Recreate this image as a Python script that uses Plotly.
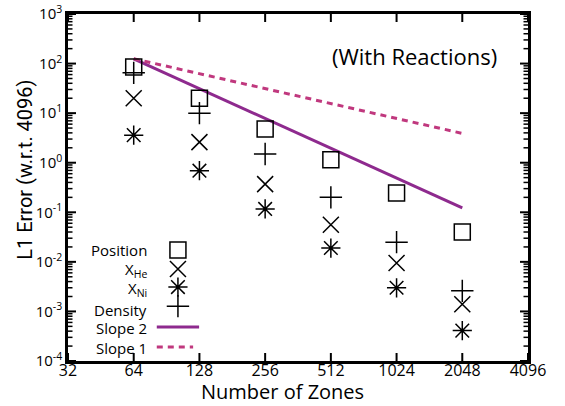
import plotly.graph_objects as go
import math

zones = [64, 128, 256, 512, 1024, 2048]
position = [85, 20, 4.8, 1.15, 0.245, 0.04]
density = [65, 10, 1.5, 0.2, 0.025, 0.0026]
x_he = [20, 2.6, 0.37, 0.056, 0.0095, 0.0014]
x_ni = [3.6, 0.69, 0.117, 0.019, 0.003, 0.00041]

slope_x = [64, 2048]
slope2_y = [125, 125 / 1024]
slope1_y = [125, 125 / 32]

x_ticks = [32, 64, 128, 256, 512, 1024, 2048, 4096]
y_tick_exps = [-4, -3, -2, -1, 0, 1, 2, 3]

FONT = "Open Sans"
C2 = "#8E2A8E"
C1 = "#C0387E"

XR = [math.log10(32), math.log10(4096)]
YR = [-4, 3]


def fx(f):
    return 10 ** (XR[0] + f * (XR[1] - XR[0]))


def fy(f):
    return 10 ** (YR[0] + f * (YR[1] - YR[0]))


def px_x(v):
    return (math.log10(v) - XR[0]) / (XR[1] - XR[0])


def px_y(v):
    return (math.log10(v) - YR[0]) / (YR[1] - YR[0])


fig = go.Figure()


def add_markers(x, y, symbol, size=16):
    fig.add_trace(go.Scatter(x=x, y=y, mode="markers",
                             marker=dict(symbol=symbol, size=size, color="black",
                                         line=dict(color="black", width=1.5)),
                             showlegend=False, cliponaxis=False))


fig.add_trace(go.Scatter(x=slope_x, y=slope2_y, mode="lines",
                         line=dict(color=C2, width=3), showlegend=False))
fig.add_trace(go.Scatter(x=slope_x, y=slope1_y, mode="lines",
                         line=dict(color=C1, width=3, dash="6px,5px"), showlegend=False))

add_markers(zones, position, "square-open")
add_markers(zones, density, "cross-thin-open")
add_markers(zones, x_he, "x-thin-open")
add_markers(zones, x_ni, "asterisk-open")

# manual legend: text on the left, key on the right
leg_labels = ["Position", "X<sub>He</sub>", "X<sub>Ni</sub>", "Density", "Slope 2", "Slope 1"]
leg_key_f = [0.320, 0.265, 0.213, 0.158, 0.098, 0.040]
leg_text_f = [0.320, 0.262, 0.208, 0.147, 0.095, 0.038]
symbols = ["square-open", "x-thin-open", "asterisk-open", "cross-thin-open"]
for sym, f in zip(symbols, leg_key_f[:4]):
    add_markers([fx(0.239)], [fy(f)], sym)
fig.add_trace(go.Scatter(x=[fx(0.193), fx(0.285)], y=[fy(leg_key_f[4])] * 2, mode="lines",
                         line=dict(color=C2, width=3), showlegend=False, hoverinfo="skip"))
fig.add_trace(go.Scatter(x=[fx(0.193), fx(0.272)], y=[fy(leg_key_f[5])] * 2, mode="lines",
                         line=dict(color=C1, width=3, dash="6px,5px"), showlegend=False, hoverinfo="skip"))

annotations = []
for lab, f in zip(leg_labels, leg_text_f):
    annotations.append(dict(text=lab, x=0.176, y=f, xref="paper", yref="paper",
                            xanchor="right", yanchor="middle", showarrow=False,
                            font=dict(family=FONT, size=15, color="black")))
annotations.append(dict(text="(With Reactions)", x=0.937, y=0.879, xref="paper", yref="paper",
                        xanchor="right", yanchor="middle", showarrow=False,
                        font=dict(family=FONT, size=22, color="black")))
annotations.append(dict(text="L1 Error (w.r.t. 4096)", x=-0.0935, y=0.551, xref="paper", yref="paper",
                        xanchor="center", yanchor="middle", showarrow=False, textangle=-90,
                        font=dict(family="Roboto", size=20, color="black")))
annotations.append(dict(text="Number of Zones", x=0.467, y=-0.089, xref="paper", yref="paper",
                        xanchor="center", yanchor="middle", showarrow=False,
                        font=dict(family=FONT, size=20, color="black")))

# tick marks drawn inside on all four sides
minor_vals = [k * 10 ** e for e in range(-4, 3) for k in range(2, 10)]
shapes = []
for e in y_tick_exps:
    f = px_y(10 ** e)
    for anchor, ln in ((0, 8), (1, -8)):
        shapes.append(dict(type="line", xref="paper", yref="paper", xsizemode="pixel",
                           xanchor=anchor, x0=0, x1=ln, y0=f, y1=f,
                           line=dict(color="black", width=2)))
for v in minor_vals:
    f = px_y(v)
    for anchor, ln in ((0, 4.5), (1, -4.5)):
        shapes.append(dict(type="line", xref="paper", yref="paper", xsizemode="pixel",
                           xanchor=anchor, x0=0, x1=ln, y0=f, y1=f,
                           line=dict(color="black", width=1.5)))
for v in x_ticks:
    f = px_x(v)
    for anchor, ln in ((0, 8), (1, -8)):
        shapes.append(dict(type="line", xref="paper", yref="paper", ysizemode="pixel",
                           yanchor=anchor, y0=0, y1=ln, x0=f, x1=f,
                           line=dict(color="black", width=2)))

fig.update_layout(
    width=565, height=406,
    margin=dict(l=68, r=37, t=14, b=45),
    paper_bgcolor="white", plot_bgcolor="white",
    font=dict(family=FONT, size=15, color="black"),
    annotations=annotations,
    shapes=shapes,
    xaxis=dict(type="log", range=XR, automargin=False,
               tickvals=x_ticks, ticktext=[str(v) for v in x_ticks],
               ticks="", ticklen=0, ticklabelstandoff=-7,
               showline=True, linewidth=2.5, linecolor="black", mirror=True,
               showgrid=False, zeroline=False,
               tickfont=dict(size=16)),
    yaxis=dict(type="log", range=YR, automargin=False,
               tickvals=[10 ** e for e in y_tick_exps],
               ticktext=["10<sup>%d</sup>" % e for e in y_tick_exps],
               ticks="", ticklen=0,
               showline=True, linewidth=2.5, linecolor="black", mirror=True,
               showgrid=False, zeroline=False,
               tickfont=dict(size=15)),
)

fig.write_html("out.html")
